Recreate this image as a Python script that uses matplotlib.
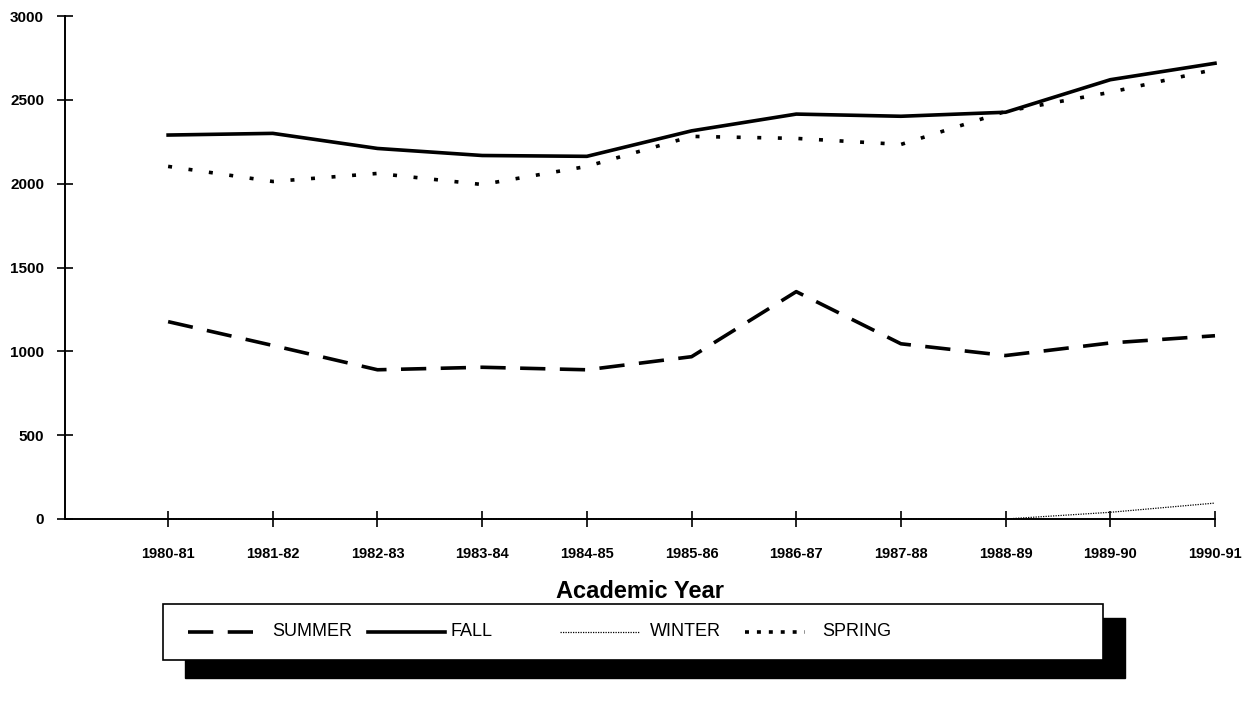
import matplotlib
matplotlib.use("Agg")
import matplotlib.pyplot as plt
from matplotlib.lines import Line2D
from matplotlib.patches import Rectangle

years = ["1980-81", "1981-82", "1982-83", "1983-84", "1984-85", "1985-86",
         "1986-87", "1987-88", "1988-89", "1989-90", "1990-91"]
summer = [1177, 1035, 890, 905, 890, 968, 1356, 1045, 975, 1050, 1093]
fall = [2290, 2300, 2210, 2168, 2163, 2315, 2415, 2402, 2426, 2620, 2718]
winter = [0, 0, 0, 0, 0, 0, 0, 0, 0, 40, 95]
spring = [2103, 2013, 2061, 1995, 2103, 2282, 2270, 2234, 2431, 2545, 2682]
yticks = [0, 500, 1000, 1500, 2000, 2500, 3000]

plt.rcParams['font.family'] = ['Liberation Sans', 'DejaVu Sans']

W, H = 1249, 712
fig = plt.figure(figsize=(W / 100, H / 100), dpi=100)
ax = fig.add_axes([65 / W, 1 - 519 / H, (1215 - 65) / W, (519 - 16) / H])

x = list(range(len(years)))
styles = {
    "SUMMER": dict(color="black", lw=2.6, linestyle=(0, (7, 4))),
    "FALL": dict(color="black", lw=2.6, linestyle="-"),
    "WINTER": dict(color="black", lw=0.9, linestyle=(0, (1, 1))),
    "SPRING": dict(color="black", lw=2.6, linestyle=(0, (1.1, 4.6))),
}
series = {"SUMMER": summer, "FALL": fall, "WINTER": winter, "SPRING": spring}
for name, vals in series.items():
    ax.plot(x, vals, **styles[name], solid_joinstyle="round", clip_on=False, zorder=3)

ax.set_xlim(-0.985, len(years) - 1)
ax.set_ylim(0, 3000)
ax.set_yticks(yticks)
ax.set_yticklabels([str(v) for v in yticks], fontsize=11, fontweight="bold")
ax.set_xticks(x)
ax.set_xticklabels(years, fontsize=10.5, fontweight="bold")
ax.tick_params(axis="both", direction="inout", length=12, width=1.2)
ax.tick_params(axis="y", pad=9)
ax.tick_params(axis="x", pad=14)
for s in ["top", "right"]:
    ax.spines[s].set_visible(False)
for s in ["left", "bottom"]:
    ax.spines[s].set_linewidth(1.4)
ax.set_xlabel("Academic Year", fontsize=17, fontweight="bold", labelpad=14)

# legend box with black shadow
shadow = Rectangle((185 / W, 1 - 678 / H), (1125 - 185) / W, (678 - 618) / H,
                   transform=fig.transFigure, facecolor="black", edgecolor="black", zorder=1)
box = Rectangle((163 / W, 1 - 660 / H), (1103 - 163) / W, (660 - 604) / H,
                transform=fig.transFigure, facecolor="white", edgecolor="black", lw=1.2, zorder=2)
fig.patches.extend([shadow, box])

ly = 1 - 632 / H
legend_styles = dict(styles)
legend_styles["SPRING"] = dict(color="black", lw=2.6, linestyle=(0, (1.1, 2.2)))
entries = [("SUMMER", 188, 260, 272), ("FALL", 368, 445, 450),
           ("WINTER", 560, 640, 650), ("SPRING", 745, 805, 822)]
for name, x0, x1, tx in entries:
    fig.add_artist(Line2D([x0 / W, x1 / W], [ly, ly], transform=fig.transFigure,
                          zorder=3, **legend_styles[name]))
    fig.text(tx / W, ly, name, fontsize=13, va="center", ha="left", zorder=3)

fig.savefig("out.png", dpi=100)
